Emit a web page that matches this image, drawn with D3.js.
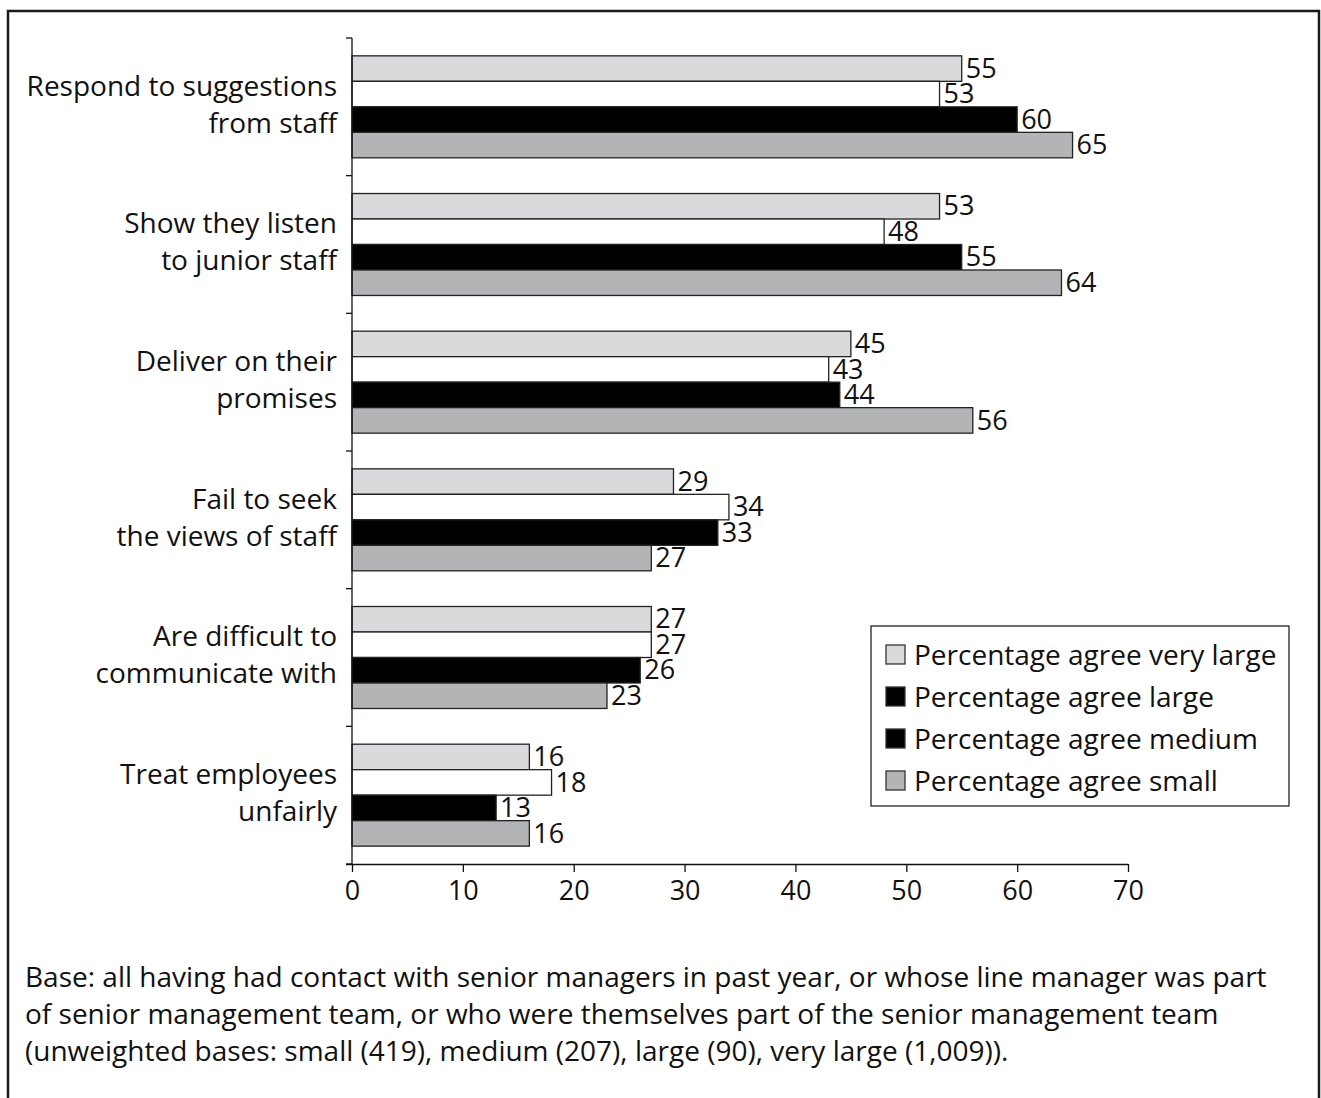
<!DOCTYPE html>
<html>
<head>
<meta charset="utf-8">
<script src="https://cdn.jsdelivr.net/npm/d3@7"></script>
<style>
  html, body { margin: 0; padding: 0; background: #fff; }
  svg text { font-family: "Open Sans", "DejaVu Sans", sans-serif; fill: #111; }
</style>
</head>
<body>
<svg id="chart" width="1321" height="1098"></svg>
<script>
// Statements about senior managers (two-line labels)
const categories = [
  ["Respond to suggestions", "from staff"],
  ["Show they listen", "to junior staff"],
  ["Deliver on their", "promises"],
  ["Fail to seek", "the views of staff"],
  ["Are difficult to", "communicate with"],
  ["Treat employees", "unfairly"]
];
const seriesNames = [
  "Percentage agree very large",
  "Percentage agree large",
  "Percentage agree medium",
  "Percentage agree small"
];
const veryLarge = [55, 53, 45, 29, 27, 16];
const large     = [53, 48, 43, 34, 27, 18];
const medium    = [60, 55, 44, 33, 26, 13];
const small     = [65, 64, 56, 27, 23, 16];
const xTicks = [0, 10, 20, 30, 40, 50, 60, 70];
const footnote = [
  "Base: all having had contact with senior managers in past year, or whose line manager was part",
  "of senior management team, or who were themselves part of the senior management team",
  "(unweighted bases: small (419), medium (207), large (90), very large (1,009))."
];

const seriesValues = [veryLarge, large, medium, small];
const barFill = ["#d9dadc", "#ffffff", "#000000", "#b3b4b6"];
const legendFill = ["#d9dadc", "#000000", "#000000", "#b3b4b6"];

const textSize = "28px";
const numSize = "27px";

const svg = d3.select("#chart");

// outer frame
svg.append("path")
  .attr("d", "M8,1098 V11 H1319 V1098")
  .attr("fill", "none").attr("stroke", "#1a1a1a").attr("stroke-width", 2.5);

const plotLeft = 352, plotRight = 1128, plotTop = 38, plotBottom = 864;

const x = d3.scaleLinear().domain([0, 70]).range([plotLeft, plotRight]);
const y = d3.scaleBand().domain(d3.range(categories.length)).range([plotTop, plotBottom]).padding(0);
const ySub = d3.scaleBand().domain(d3.range(seriesNames.length))
  .range([0, y.bandwidth()]).paddingInner(0).paddingOuter(0.7);

const g = svg.append("g");

// bars and value labels
seriesValues.forEach((vals, s) => {
  g.selectAll(null).data(vals).enter().append("rect")
    .attr("x", x(0))
    .attr("y", (d, i) => y(i) + ySub(s))
    .attr("width", d => x(d) - x(0))
    .attr("height", ySub.bandwidth())
    .attr("fill", barFill[s])
    .attr("stroke", "#222").attr("stroke-width", 1.3);

  g.selectAll(null).data(vals).enter().append("text")
    .attr("x", d => x(d) + 4)
    .attr("y", (d, i) => y(i) + ySub(s) + ySub.bandwidth() / 2 + 2)
    .attr("dominant-baseline", "middle")
    .style("font-size", numSize)
    .text(d => d);
});

// y axis with ticks at band boundaries
const yAxisG = svg.append("g");
yAxisG.append("line").attr("x1", plotLeft).attr("x2", plotLeft).attr("y1", plotTop).attr("y2", plotBottom)
  .attr("stroke", "#111").attr("stroke-width", 1.3);
yAxisG.selectAll(null).data(d3.range(categories.length + 1)).enter().append("line")
  .attr("x1", plotLeft - 6).attr("x2", plotLeft)
  .attr("y1", i => plotTop + i * y.step()).attr("y2", i => plotTop + i * y.step())
  .attr("stroke", "#111").attr("stroke-width", 1.3);

// category labels
categories.forEach((lines, i) => {
  const cy = y(i) + y.bandwidth() / 2;
  lines.forEach((t, k) => {
    svg.append("text")
      .attr("x", plotLeft - 15)
      .attr("y", cy + (k - 0.5) * 37)
      .attr("text-anchor", "end")
      .attr("dominant-baseline", "middle")
      .style("font-size", textSize)
      .text(t);
  });
});

// x axis
const xAxis = d3.axisBottom(x).tickValues(xTicks).tickSize(8).tickSizeOuter(0).tickPadding(9);
const xg = svg.append("g").attr("transform", `translate(0,${plotBottom})`).call(xAxis);
xg.select(".domain").attr("d", `M${plotLeft - 6},0.5H${plotRight}`).attr("stroke", "#111").attr("stroke-width", 1.3);
xg.selectAll(".tick line").attr("stroke", "#111").attr("stroke-width", 1.3);
xg.selectAll(".tick text").style("font-size", numSize).style("font-family", "'Open Sans', sans-serif").attr("fill", "#111");

// legend
const lg = svg.append("g").attr("transform", "translate(871,626)");
lg.append("rect").attr("width", 418).attr("height", 180)
  .attr("fill", "#fff").attr("stroke", "#222").attr("stroke-width", 1.3);
seriesNames.forEach((name, i) => {
  const cy = 29 + i * 42;
  lg.append("rect").attr("x", 15).attr("y", cy - 10).attr("width", 19).attr("height", 19)
    .attr("fill", legendFill[i]).attr("stroke", "#333").attr("stroke-width", 1.3);
  lg.append("text").attr("x", 43).attr("y", cy + 3)
    .attr("dominant-baseline", "middle").style("font-size", textSize).text(name);
});

// footnote
footnote.forEach((t, i) => {
  svg.append("text").attr("x", 25).attr("y", 980 + i * 37)
    .attr("dominant-baseline", "middle").style("font-size", textSize).text(t);
});
</script>
</body>
</html>
